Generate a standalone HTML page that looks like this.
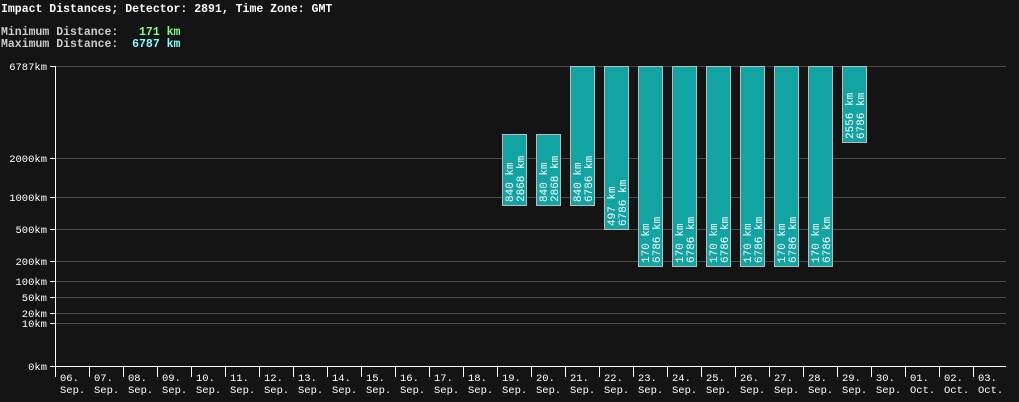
<!DOCTYPE html>
<html><head><meta charset="utf-8"><style>
body{margin:0;background:#141414;width:1019px;height:402px;overflow:hidden}
svg{display:block;font-family:"Liberation Mono","DejaVu Sans Mono",monospace}
</style></head><body>
<svg width="1019" height="402" xmlns="http://www.w3.org/2000/svg">
<rect width="1019" height="402" fill="#141414"/>
<text x="1" y="12" fill="#fff" font-size="11.5" font-weight="bold">Impact Distances; Detector: 2891, Time Zone: GMT</text>
<text x="1" y="35" fill="#ccc" font-size="11.5" font-weight="bold" xml:space="preserve">Minimum Distance:   <tspan fill="#80ff80">171 km</tspan></text>
<text x="1" y="47" fill="#ccc" font-size="11.5" font-weight="bold" xml:space="preserve">Maximum Distance:  <tspan fill="#80ffff">6787 km</tspan></text>
<g stroke="#4a4a4a" stroke-width="1">
<line x1="55" x2="1006" y1="66.5" y2="66.5"/>
<line x1="55" x2="1006" y1="158.5" y2="158.5"/>
<line x1="55" x2="1006" y1="197.5" y2="197.5"/>
<line x1="55" x2="1006" y1="229.5" y2="229.5"/>
<line x1="55" x2="1006" y1="261.5" y2="261.5"/>
<line x1="55" x2="1006" y1="281.5" y2="281.5"/>
<line x1="55" x2="1006" y1="297.5" y2="297.5"/>
<line x1="55" x2="1006" y1="313.5" y2="313.5"/>
<line x1="55" x2="1006" y1="323.5" y2="323.5"/>
</g>
<g fill="#fff" font-size="10.5" text-anchor="end">
<text x="47" y="70">6787km</text><text x="47" y="162">2000km</text><text x="47" y="201">1000km</text>
<text x="47" y="233">500km</text><text x="47" y="265">200km</text><text x="47" y="285">100km</text>
<text x="47" y="301">50km</text><text x="47" y="317">20km</text><text x="47" y="327">10km</text><text x="47" y="370">0km</text>
</g>
<g stroke="#fff" stroke-width="1">
<line x1="55.5" y1="66" x2="55.5" y2="377"/>
<line x1="55" y1="366.5" x2="1006" y2="366.5"/>
<line x1="50" x2="55" y1="66.5" y2="66.5"/><line x1="50" x2="55" y1="158.5" y2="158.5"/>
<line x1="50" x2="55" y1="197.5" y2="197.5"/><line x1="50" x2="55" y1="229.5" y2="229.5"/>
<line x1="50" x2="55" y1="261.5" y2="261.5"/><line x1="50" x2="55" y1="281.5" y2="281.5"/>
<line x1="50" x2="55" y1="297.5" y2="297.5"/><line x1="50" x2="55" y1="313.5" y2="313.5"/>
<line x1="50" x2="55" y1="323.5" y2="323.5"/><line x1="50" x2="55" y1="366.5" y2="366.5"/>
<line x1="89.5" x2="89.5" y1="366" y2="377"/><line x1="123.5" x2="123.5" y1="366" y2="377"/>
<line x1="157.5" x2="157.5" y1="366" y2="377"/><line x1="191.5" x2="191.5" y1="366" y2="377"/>
<line x1="225.5" x2="225.5" y1="366" y2="377"/><line x1="259.5" x2="259.5" y1="366" y2="377"/>
<line x1="293.5" x2="293.5" y1="366" y2="377"/><line x1="327.5" x2="327.5" y1="366" y2="377"/>
<line x1="361.5" x2="361.5" y1="366" y2="377"/><line x1="395.5" x2="395.5" y1="366" y2="377"/>
<line x1="429.5" x2="429.5" y1="366" y2="377"/><line x1="463.5" x2="463.5" y1="366" y2="377"/>
<line x1="497.5" x2="497.5" y1="366" y2="377"/><line x1="531.5" x2="531.5" y1="366" y2="377"/>
<line x1="565.5" x2="565.5" y1="366" y2="377"/><line x1="599.5" x2="599.5" y1="366" y2="377"/>
<line x1="633.5" x2="633.5" y1="366" y2="377"/><line x1="667.5" x2="667.5" y1="366" y2="377"/>
<line x1="701.5" x2="701.5" y1="366" y2="377"/><line x1="735.5" x2="735.5" y1="366" y2="377"/>
<line x1="769.5" x2="769.5" y1="366" y2="377"/><line x1="803.5" x2="803.5" y1="366" y2="377"/>
<line x1="837.5" x2="837.5" y1="366" y2="377"/><line x1="871.5" x2="871.5" y1="366" y2="377"/>
<line x1="905.5" x2="905.5" y1="366" y2="377"/><line x1="939.5" x2="939.5" y1="366" y2="377"/>
<line x1="973.5" x2="973.5" y1="366" y2="377"/>
</g>
<g fill="#fff" font-size="10.5">
<text x="60" y="381">06.</text><text x="60" y="393">Sep.</text>
<text x="94" y="381">07.</text><text x="94" y="393">Sep.</text>
<text x="128" y="381">08.</text><text x="128" y="393">Sep.</text>
<text x="162" y="381">09.</text><text x="162" y="393">Sep.</text>
<text x="196" y="381">10.</text><text x="196" y="393">Sep.</text>
<text x="230" y="381">11.</text><text x="230" y="393">Sep.</text>
<text x="264" y="381">12.</text><text x="264" y="393">Sep.</text>
<text x="298" y="381">13.</text><text x="298" y="393">Sep.</text>
<text x="332" y="381">14.</text><text x="332" y="393">Sep.</text>
<text x="366" y="381">15.</text><text x="366" y="393">Sep.</text>
<text x="400" y="381">16.</text><text x="400" y="393">Sep.</text>
<text x="434" y="381">17.</text><text x="434" y="393">Sep.</text>
<text x="468" y="381">18.</text><text x="468" y="393">Sep.</text>
<text x="502" y="381">19.</text><text x="502" y="393">Sep.</text>
<text x="536" y="381">20.</text><text x="536" y="393">Sep.</text>
<text x="570" y="381">21.</text><text x="570" y="393">Sep.</text>
<text x="604" y="381">22.</text><text x="604" y="393">Sep.</text>
<text x="638" y="381">23.</text><text x="638" y="393">Sep.</text>
<text x="672" y="381">24.</text><text x="672" y="393">Sep.</text>
<text x="706" y="381">25.</text><text x="706" y="393">Sep.</text>
<text x="740" y="381">26.</text><text x="740" y="393">Sep.</text>
<text x="774" y="381">27.</text><text x="774" y="393">Sep.</text>
<text x="808" y="381">28.</text><text x="808" y="393">Sep.</text>
<text x="842" y="381">29.</text><text x="842" y="393">Sep.</text>
<text x="876" y="381">30.</text><text x="876" y="393">Sep.</text>
<text x="910" y="381">01.</text><text x="910" y="393">Oct.</text>
<text x="944" y="381">02.</text><text x="944" y="393">Oct.</text>
<text x="978" y="381">03.</text><text x="978" y="393">Oct.</text>
</g>
<g fill="#12a3a3" stroke="#bbb" stroke-width="1">
<rect x="502.5" y="134.5" width="24" height="71"/>
<rect x="536.5" y="134.5" width="24" height="71"/>
<rect x="570.5" y="66.5" width="24" height="139"/>
<rect x="604.5" y="66.5" width="24" height="163"/>
<rect x="638.5" y="66.5" width="24" height="200"/>
<rect x="672.5" y="66.5" width="24" height="200"/>
<rect x="706.5" y="66.5" width="24" height="200"/>
<rect x="740.5" y="66.5" width="24" height="200"/>
<rect x="774.5" y="66.5" width="24" height="200"/>
<rect x="808.5" y="66.5" width="24" height="200"/>
<rect x="842.5" y="66.5" width="24" height="76"/>
</g>
<g fill="#fff" font-size="11">
<text transform="translate(513,202) rotate(-90)">840 km</text><text transform="translate(524,202) rotate(-90)">2868 km</text>
<text transform="translate(547,202) rotate(-90)">840 km</text><text transform="translate(558,202) rotate(-90)">2868 km</text>
<text transform="translate(581,202) rotate(-90)">840 km</text><text transform="translate(592,202) rotate(-90)">6786 km</text>
<text transform="translate(615,226) rotate(-90)">497 km</text><text transform="translate(626,226) rotate(-90)">6786 km</text>
<text transform="translate(649,263) rotate(-90)">170 km</text><text transform="translate(660,263) rotate(-90)">6786 km</text>
<text transform="translate(683,263) rotate(-90)">170 km</text><text transform="translate(694,263) rotate(-90)">6786 km</text>
<text transform="translate(717,263) rotate(-90)">170 km</text><text transform="translate(728,263) rotate(-90)">6786 km</text>
<text transform="translate(751,263) rotate(-90)">170 km</text><text transform="translate(762,263) rotate(-90)">6786 km</text>
<text transform="translate(785,263) rotate(-90)">170 km</text><text transform="translate(796,263) rotate(-90)">6786 km</text>
<text transform="translate(819,263) rotate(-90)">170 km</text><text transform="translate(830,263) rotate(-90)">6786 km</text>
<text transform="translate(853,139) rotate(-90)">2556 km</text><text transform="translate(864,139) rotate(-90)">6786 km</text>
</g>
</svg>
</body></html>
